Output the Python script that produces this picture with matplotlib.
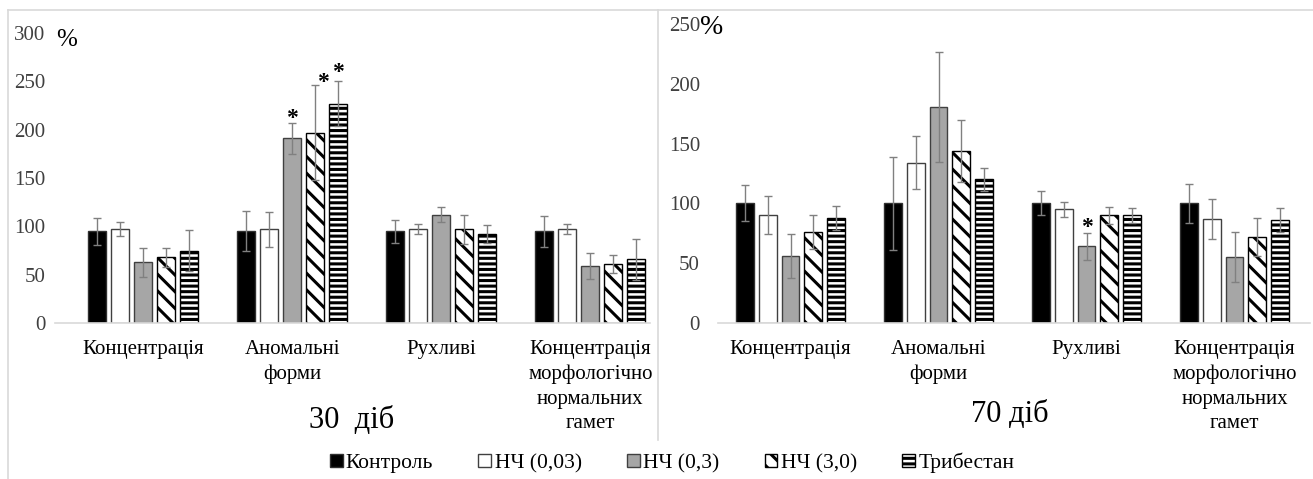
import matplotlib
matplotlib.use("Agg")
import matplotlib.pyplot as plt
import numpy as np
from matplotlib.lines import Line2D

plt.rcParams['font.family'] = ['Liberation Serif', 'DejaVu Serif']
plt.rcParams['hatch.linewidth'] = 2.2

categories = ["Концентрація", "Аномальні\nформи", "Рухливі",
              "Концентрація\nморфологічно\nнормальних\nгамет"]
series = ["Контроль", "НЧ (0,03)", "НЧ (0,3)", "НЧ (3,0)", "Трибестан"]

# 30 days
v30 = {
    "Контроль":  [95, 95, 95, 95],
    "НЧ (0,03)": [97, 97, 97, 97],
    "НЧ (0,3)":  [63, 191, 112, 59],
    "НЧ (3,0)":  [68, 197, 97, 61],
    "Трибестан": [75, 227, 92, 66],
}
e30 = {
    "Контроль":  [14, 21, 12, 16],
    "НЧ (0,03)": [7, 18, 5, 5],
    "НЧ (0,3)":  [15, 16, 8, 13],
    "НЧ (3,0)":  [10, 49, 15, 9],
    "Трибестан": [21, 23, 9, 21],
}
# 70 days
v70 = {
    "Контроль":  [100, 100, 100, 100],
    "НЧ (0,03)": [90, 134, 95, 87],
    "НЧ (0,3)":  [56, 181, 64, 55],
    "НЧ (3,0)":  [76, 144, 90, 72],
    "Трибестан": [88, 120, 90, 86],
}
e70 = {
    "Контроль":  [15, 39, 10, 16],
    "НЧ (0,03)": [16, 22, 6, 17],
    "НЧ (0,3)":  [18, 46, 11, 21],
    "НЧ (3,0)":  [14, 26, 7, 16],
    "Трибестан": [10, 10, 6, 10],
}
# significance marks: (category index, series index, y, x offset)
stars30 = [(1, 2, 212, 0.0), (1, 3, 249, 0.05), (1, 4, 259, 0.0)]
stars70 = [(2, 2, 80, 0.0)]

styles = {
    "Контроль":  dict(facecolor="black", edgecolor="#303030", hatch=None),
    "НЧ (0,03)": dict(facecolor="white", edgecolor="#404040", hatch=None),
    "НЧ (0,3)":  dict(facecolor="#a6a6a6", edgecolor="#404040", hatch=None),
    "НЧ (3,0)":  dict(facecolor="white", edgecolor="black", hatch="\\\\"),
    "Трибестан": dict(facecolor="white", edgecolor="black", hatch="---"),
}

W, H = 1313, 479
fig = plt.figure(figsize=(W / 100, H / 100), dpi=100)

pitch = 0.154
bw = 0.121


def draw(ax, vals, errs, stars, ymax, xlim, tickpad):
    x = np.arange(len(categories))
    for i, s in enumerate(series):
        st = styles[s]
        xs = x + (i - 2) * pitch
        ax.bar(xs, vals[s], width=bw, facecolor=st["facecolor"],
               edgecolor=st["edgecolor"], hatch=st["hatch"], linewidth=1.0,
               label=s, zorder=2)
        ax.errorbar(xs, vals[s], yerr=errs[s], fmt="none", ecolor="#808080",
                    elinewidth=1.0, capsize=3, capthick=1.0, zorder=3)
    for ci, si, y, dx in stars:
        ax.text(ci + (si - 2) * pitch + dx, y, "*", ha="center", va="center",
                fontsize=17, fontweight="bold", zorder=4)
    ax.set_ylim(0, ymax)
    ax.set_xlim(*xlim)
    ax.set_yticks(np.arange(0, ymax + 1, 50))
    ax.set_xticks(x)
    ax.set_xticklabels(categories, fontsize=15, linespacing=1.4, va="top")
    ax.tick_params(axis="x", length=0, pad=12)
    ax.tick_params(axis="y", length=0, pad=tickpad, labelsize=15,
                   labelcolor="#404040")
    for sp in ["top", "right", "left"]:
        ax.spines[sp].set_visible(False)
    ax.spines["bottom"].set_color("#d9d9d9")
    ax.spines["bottom"].set_linewidth(1.2)


bottom = 1 - 323 / H
ax1 = fig.add_axes([55 / W, bottom, (650 - 55) / W, (1 - 33 / H) - bottom])
draw(ax1, v30, e30, stars30, 300, (-0.59, 3.40), 7)
ax2 = fig.add_axes([718 / W, bottom, (1310 - 718) / W, (1 - 24 / H) - bottom])
draw(ax2, v70, e70, stars70, 250, (-0.49, 3.51), 13)

fig.text(56 / W, 1 - 40 / H, "%", fontsize=18, ha="left", va="center")
fig.text(700 / W, 1 - 27 / H, "%", fontsize=20, ha="left", va="center")

fig.text(352 / W, 1 - 421 / H, "30  діб", fontsize=22, ha="center", va="center")
fig.text(1010 / W, 1 - 414 / H, "70 діб", fontsize=22, ha="center", va="center")

handles, labels = ax1.get_legend_handles_labels()
fig.legend(handles, labels, loc="center", bbox_to_anchor=(672 / W, 1 - 463 / H),
           ncol=5, frameon=False, fontsize=15.5, handlelength=0.6,
           handleheight=0.6, handletextpad=0.15, columnspacing=2.1)

# light panel borders
for (x0, y0, x1, y1) in [(8, 10, 1313, 10), (8, 10, 8, 479), (658, 10, 658, 440)]:
    fig.add_artist(Line2D([x0 / W, x1 / W], [1 - y0 / H, 1 - y1 / H],
                          transform=fig.transFigure, color="#d9d9d9", lw=1.2))

fig.savefig("out.png", dpi=100, facecolor="white")
